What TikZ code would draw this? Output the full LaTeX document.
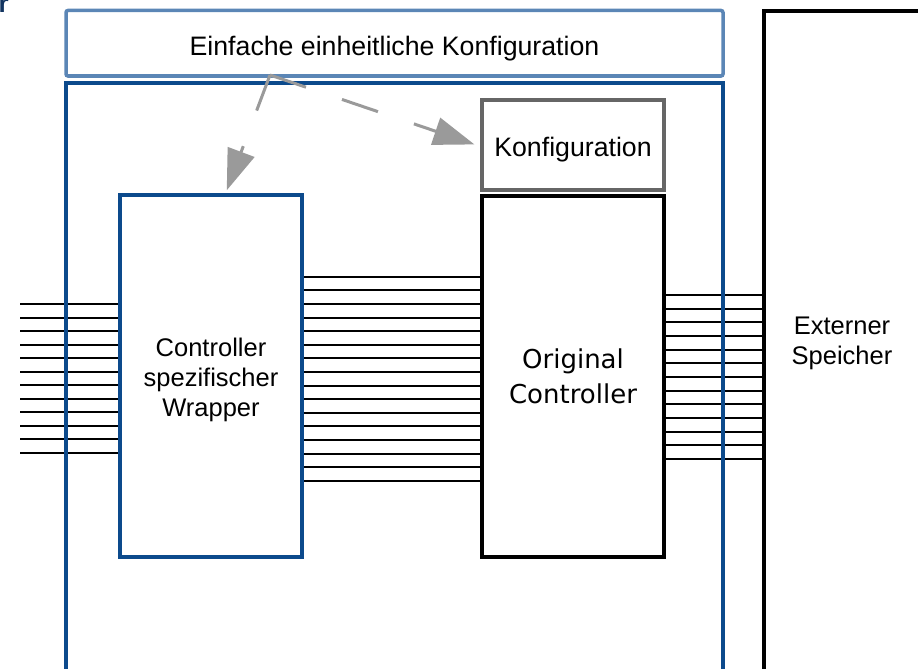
\documentclass[tikz,border=0pt]{standalone}
\usepackage{fontspec}
\setmainfont{Liberation Sans}
\newfontfamily\dejavu{DejaVu Sans}
\usetikzlibrary{arrows.meta,backgrounds,calc}
\definecolor{topblue}{RGB}{91,134,182}
\definecolor{mainblue}{RGB}{12,74,140}
\definecolor{konfgray}{RGB}{102,102,102}
\definecolor{arrgray}{RGB}{154,154,154}
\definecolor{navy}{RGB}{18,52,96}
\begin{document}
\begin{tikzpicture}[x=1pt,y=-1pt,
  box/.style={draw, rectangle, inner sep=0pt, outer sep=0pt, line width=4pt, anchor=north west},
  txt/.style={font=\fontsize{25.5}{30}\selectfont, align=center, inner sep=0pt},
  bigtxt/.style={font=\fontsize{26.7}{32}\selectfont, align=center, inner sep=0pt},
  bus/.style={line width=2pt, black},
  dasharrow/.style={draw=arrgray, line width=3pt, dash pattern=on 38pt off 38pt,
    -{Triangle[length=41pt,width=28pt,fill=arrgray]}}]
\useasboundingbox (0,0) rectangle (918,669);

% cut-off title letter
\node[anchor=base west, inner sep=0pt, text=navy, font=\fontsize{26}{30}\selectfont\bfseries] (title) at (-1.5,12.5) {r};

% boxes
\node[box, draw=topblue, line width=3.5pt, rounded corners=2pt, minimum width=657pt, minimum height=65.5pt] (top) at (66,10.5) {};
\node[box, draw=mainblue, minimum width=656.5pt, minimum height=640pt] (main) at (66,82.5) {};
\node[box, draw=mainblue, minimum width=182pt, minimum height=362pt] (wrapper) at (120,195) {};
\node[box, draw=konfgray, minimum width=182pt, minimum height=90pt] (konf) at (482,100) {};
\node[box, draw=black, minimum width=182pt, minimum height=361pt] (orig) at (482,196) {};
\node[box, draw=black, minimum width=300pt, minimum height=700pt] (ext) at (764,11.5) {};

% texts
\node[bigtxt] (toptext) at ([yshift=-5pt]top.center) {Einfache einheitliche Konfiguration};
\node[bigtxt] (konftext) at ([yshift=-5pt]konf.center) {Konfiguration};
\node[txt] (wraptext) at ([yshift=-4pt]wrapper.center) {Controller\\spezifischer\\Wrapper};
\node[font=\dejavu\fontsize{26}{35}\selectfont, align=center, inner sep=0pt] (origtext) at (orig.center) {Original\\Controller};
\node[txt] (exttext) at (842,343) {Externer\\Speicher};

% bus lines
\coordinate (lfree) at (20,0);
\begin{scope}[on background layer]
  \foreach \i [evaluate=\i as \yy using 304+13.5*\i] in {0,...,11}
    \draw[bus] (lfree |- 0,\yy) -- (wrapper.west |- 0,\yy);
  \foreach \i [evaluate=\i as \yy using 276.7+13.6*\i] in {0,...,15}
    \draw[bus] (wrapper.east |- 0,\yy) -- (orig.west |- 0,\yy);
  \foreach \i [evaluate=\i as \yy using 295+13.67*\i] in {0,...,12}
    \draw[bus] (orig.east |- 0,\yy) -- (ext.west |- 0,\yy);
\end{scope}

% dashed arrows
\coordinate (apex) at ($(top.south west)+(204,-1)$);
\draw[dasharrow, shorten >=5pt] (apex) -- ([xshift=14pt]wrapper.north);
\draw[dasharrow, shorten >=8pt] (apex) -- ([yshift=-2pt]konf.west);
\end{tikzpicture}
\end{document}
